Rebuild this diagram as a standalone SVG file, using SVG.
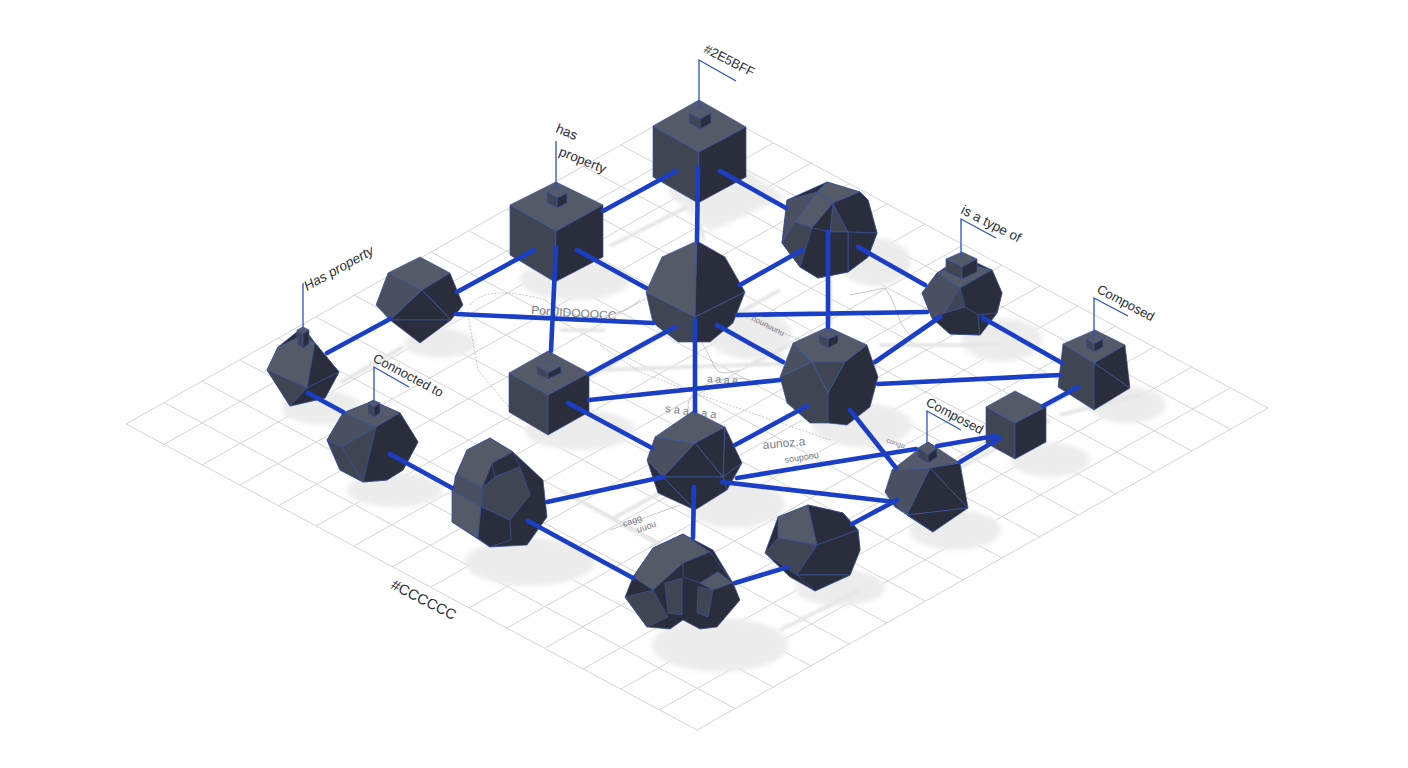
<svg xmlns="http://www.w3.org/2000/svg" width="1408" height="768" viewBox="0 0 1408 768">
<style>
.bg{fill:#fff}
.grid{fill:none;stroke:#d4d4d4;stroke-width:1}
.sh{fill:#ececec;filter:url(#soft)}
.shl{fill:none;stroke:#e6e6e6;stroke-width:4;filter:url(#soft1)}
.map{fill:none;stroke:#b0b0b0;stroke-width:.7}
.mapd{fill:none;stroke:#b0b0b0;stroke-width:.7;stroke-dasharray:2 1.5}
.faint{font-family:"Liberation Sans",sans-serif;fill:#7a7e88}
polygon{stroke:#3a54a0;stroke-width:.7;stroke-linejoin:round}
.t{fill:#555a69}.l{fill:#4b5060}.m{fill:#404554}.d{fill:#2a2e3c}
.cn{fill:none;stroke:#1a3fc6;stroke-width:4.600;stroke-linecap:round}
.fl{fill:none;stroke:#2c53bd;stroke-width:1.3}
.lb{font-family:"Liberation Sans",sans-serif;font-size:13.500px;fill:#2a2f3a}
</style>
<defs>
<filter id="soft" x="-20%" y="-20%" width="140%" height="140%"><feGaussianBlur stdDeviation="2.500"/></filter>
<filter id="soft1" x="-20%" y="-50%" width="140%" height="200%"><feGaussianBlur stdDeviation="1"/></filter>
</defs>
<rect class="bg" width="1408" height="768"/>
<path class="grid" d="M126 424l571 306M164 402.500l571 306M202 381l571 306M240 360l571 306M278 338l571 306M316 317l571 306M354 295l571 306M392 274l571 306M431 252l571 306M469 231l571 306M507 209l571 306M545 188l571 306M583 166l571 306M621 145l571 306M659 123l571 306M697 102l571 306M126 424l571 -322M164 444.400l571 -322M202 465l571 -322M240 485l571 -322M278 506l571 -322M316 526l571 -322M354 546l571 -322M392 567l571 -322M431 587l571 -322M469 608l571 -322M507 628l571 -322M545 648l571 -322M583 669l571 -322M621 689l571 -322M659 710l571 -322M697 730l571 -322"/>
<g id="shadows">
<polygon class="sh" style="stroke:none" points="665,190 747,170 785,197 710,232"/>
<ellipse class="sh" cx="575" cy="280" rx="55" ry="20"/><ellipse class="sh" cx="440" cy="343" rx="36" ry="15"/><ellipse class="sh" cx="322" cy="408" rx="40" ry="17"/><ellipse class="sh" cx="395" cy="490" rx="48" ry="17"/><ellipse class="sh" cx="530" cy="562" rx="65" ry="24"/><ellipse class="sh" cx="720" cy="645" rx="68" ry="27"/><ellipse class="sh" cx="840" cy="588" rx="45" ry="18"/><ellipse class="sh" cx="735" cy="505" rx="50" ry="23"/><ellipse class="sh" cx="580" cy="430" rx="55" ry="20"/><ellipse class="sh" cx="750" cy="335" rx="42" ry="24"/><ellipse class="sh" cx="862" cy="425" rx="50" ry="22"/><ellipse class="sh" cx="875" cy="262" rx="36" ry="24"/><ellipse class="sh" cx="1002" cy="340" rx="40" ry="22"/><ellipse class="sh" cx="1128" cy="405" rx="38" ry="18"/><ellipse class="sh" cx="1050" cy="460" rx="40" ry="17"/><ellipse class="sh" cx="955" cy="530" rx="46" ry="20"/>
<path class="shl" d="M610 246L687 207M340 383L403 347M585 380L720 300M560 330L605 330M700 225L704 240M830 280L830 325M780 290L700 335M600 370L830 362M880 345L1000 345M880 510L1050 420M1060 415L1140 395M560 490L660 545M690 600L800 560M610 520L720 460M780 630L860 590M750 365L790 345"/>
</g>
<g id="map-marks">
<path class="mapd" d="M470 305C480 290 510 290 545 300M468 315L478 370L520 420M600 345L640 372L700 395L830 440M740 315L800 340"/>
<path class="map" d="M545 300C570 320 610 325 640 300M800 375C820 395 840 390 855 410M690 410C680 400 710 370 750 380M850 295L885 288C900 310 895 320 910 335M610 530L680 505M700 340C720 370 710 378 740 370"/>
<text class="faint" font-size="12" transform="translate(531 314) rotate(4)">Por JIDOOOCC</text>
<text class="faint" font-size="10" transform="translate(707 382) rotate(4)">a a a e</text>
<text class="faint" font-size="11" transform="translate(665 412) rotate(7)">s a a a a a</text>
<text class="faint" font-size="12" transform="translate(763 449) rotate(-5)">aunoz.a</text>
<text class="faint" font-size="9" transform="translate(785 463) rotate(-9)">soupoou</text>
<text class="faint" font-size="9" transform="translate(624 527) rotate(-20)">cagg</text>
<text class="faint" font-size="9" transform="translate(638 533) rotate(-20)">uuou</text>
<text class="faint" font-size="8" transform="translate(751 320) rotate(27)">nounuunu</text>
<text class="faint" font-size="7" transform="translate(886 442) rotate(20)">congo</text>
</g>
<g id="node-cube-a"><polygon class="t" points="699,100 746,127 699,152 653,126"/><polygon class="m" points="653,126 699,152 698,203 653,177"/><polygon class="d" points="746,127 746,177 698,203 699,152"/><polygon class="t" points="699,106 711,113 700,119 689,113"/><polygon class="m" points="689,113 700,119 700,129 689,123"/><polygon class="d" points="711,113 711,123 700,129 700,119"/></g>
<g id="node-cube-b"><polygon class="t" points="556,182 603,205 556,231 510,205"/><polygon class="m" points="510,205 556,231 555,282 510,255"/><polygon class="d" points="603,205 603,257 555,282 556,231"/><polygon class="t" points="557,187 567,193 557,198 547,192"/><polygon class="m" points="547,192 557,198 557,208 547,203"/><polygon class="d" points="567,193 567,203 557,208 557,198"/></g>
<g id="node-poly-c"><polygon class="t" points="697,241 662,257 646,292 695,317"/><polygon class="d" points="697,241 725,257 745,292 695,317"/><polygon class="m" points="646,292 695,317 695,342 678,342 653,323"/><polygon class="d" points="745,292 695,317 695,342 710,342 733,323"/></g>
<g id="node-rock-d"><polygon class="d" points="827,182 860,192 868,200 877,233 868,257 848,272 818,278 800,267 782,243 787,200"/><polygon class="l" points="787,200 817,192 795,222 782,243"/><polygon class="t" points="817,192 827,182 860,192 833,203"/><polygon class="t" points="817,192 833,203 812,228 795,222"/><polygon class="m" points="833,203 848,232 830,232"/><polygon class="d" points="833,203 860,192 868,200 877,233 848,232"/><polygon class="d" points="833,203 830,232 812,228"/><polygon class="m" points="782,243 795,222 812,228 800,267"/><polygon class="d" points="848,232 877,233 868,257 848,272"/><polygon class="d" points="812,228 830,232 848,232 848,272 818,278 800,267"/></g>
<g id="node-rock-e"><polygon class="d" points="962,256 992,270 1002,293 997,313 980,335 950,334 932,318 922,293 937,273"/><polygon class="t" points="937,273 962,262 992,270 960,288"/><polygon class="l" points="937,273 960,288 945,313 932,318 922,293"/><polygon class="m" points="960,288 965,307 945,313"/><polygon class="d" points="960,288 992,270 1002,293 997,313 978,315 965,307"/><polygon class="d" points="932,318 945,313 965,307 978,315 980,335 950,334"/><polygon class="d" points="978,315 997,313 980,335"/><polygon class="t" points="962,252 977,259 962,267 946,259"/><polygon class="m" points="946,259 962,267 962,279 946,272"/><polygon class="d" points="977,259 977,272 962,279 962,267"/></g>
<g id="node-frustum-f"><polygon class="t" points="1095,330 1125,345 1094,363 1063,344"/><polygon class="m" points="1063,344 1094,363 1094,410 1058,387"/><polygon class="d" points="1125,345 1130,388 1094,363"/><polygon class="d" points="1094,363 1130,388 1094,410"/><polygon class="t" points="1094,335 1103,339 1094,344 1086,339"/><polygon class="m" points="1086,339 1094,344 1094,352 1086,347"/><polygon class="d" points="1103,339 1103,347 1094,352 1094,344"/></g>
<g id="node-cube-g"><polygon class="t" points="1015,391 1046,407 1015,423 986,407"/><polygon class="m" points="986,407 1015,423 1015,459 986,443"/><polygon class="d" points="1046,407 1046,442 1015,459 1015,423"/></g>
<g id="node-rock-h"><polygon class="t" points="892,470 928,442 960,463 930,468"/><polygon class="l" points="892,470 930,468 907,515 885,492"/><polygon class="d" points="930,468 960,463 968,508"/><polygon class="d" points="930,468 968,508 907,515"/><polygon class="d" points="907,515 968,508 933,532"/><polygon class="m" points="885,492 907,515 933,532 895,507"/><polygon class="t" points="928,442 937,448 928,455 918,448"/><polygon class="m" points="918,448 928,455 928,463 918,457"/><polygon class="d" points="937,448 937,457 928,463 928,455"/></g>
<g id="node-rock-i"><polygon class="t" points="793,343 828,327 867,345 845,362 812,362"/><polygon class="l" points="793,343 812,362 780,377"/><polygon class="m" points="812,362 845,362 828,393"/><polygon class="m" points="780,377 812,362 828,393 828,423 810,423 787,403"/><polygon class="d" points="845,362 867,345 878,377 870,407 847,425 828,423 828,393"/><polygon class="t" points="828,330 838,335 828,339 819,335"/><polygon class="m" points="819,335 828,339 828,348 819,343"/><polygon class="d" points="838,335 838,343 828,348 828,339"/></g>
<g id="node-cube-j"><polygon class="t" points="548,351 589,373 548,395 509,373"/><polygon class="m" points="509,373 548,395 548,435 509,412"/><polygon class="d" points="589,373 589,412 548,435 548,395"/><polygon class="t" points="548,360 561,366 548,373 537,366"/><polygon class="m" points="537,366 548,373 548,379 537,374"/><polygon class="d" points="561,366 561,373 548,379 548,373"/></g>
<g id="node-rock-k"><polygon class="t" points="655,437 693,411 725,427 695,443"/><polygon class="l" points="655,437 695,443 663,477 647,460"/><polygon class="d" points="695,443 725,427 723,477"/><polygon class="d" points="695,443 723,477 663,477"/><polygon class="d" points="725,427 742,463 723,477"/><polygon class="d" points="742,463 727,490 723,477"/><polygon class="d" points="663,477 723,477 727,490 695,510"/><polygon class="d" points="647,460 663,477 695,510 658,493"/></g>
<g id="node-rock-l"><polygon class="d" points="490,438 513,452 543,480 547,517 527,545 490,547 452,522 455,477 467,450"/><polygon class="t" points="467,450 490,438 513,452 492,463 482,488 457,475"/><polygon class="d" points="492,463 513,452 520,467 495,477"/><polygon class="m" points="495,477 520,467 530,495 510,520 482,507 482,488"/><polygon class="l" points="457,475 482,488 481,507 452,490"/><polygon class="t" points="452,490 481,507 478,538 452,522"/><polygon class="d" points="481,507 510,520 511,540 490,547 478,538"/></g>
<g id="node-rock-m"><polygon class="d" points="683,534 713,550 733,583 740,600 717,627 700,629 683,620 670,629 647,627 625,597 633,577 653,548"/><polygon class="t" points="653,548 683,534 710,552 683,563 653,590 633,577"/><polygon class="d" points="683,563 710,552 733,583 718,572 700,583 683,577"/><polygon class="m" points="625,597 653,590 668,617 647,627"/><polygon class="m" points="665,583 682,578 682,615 668,613"/><polygon class="t" points="700,583 718,572 732,583 713,590"/><polygon class="m" points="698,587 713,590 708,617 697,613"/></g>
<g id="node-rock-n"><polygon class="d" points="808,505 843,513 858,530 860,550 850,575 815,591 790,577 765,553 778,517"/><polygon class="t" points="808,505 817,545 778,538 778,517"/><polygon class="d" points="808,505 843,513 858,530 817,545"/><polygon class="m" points="778,538 817,545 797,575 765,553"/><polygon class="d" points="817,545 858,530 860,550 850,575 797,575"/><polygon class="d" points="797,575 850,575 815,591"/></g>
<g id="node-rock-o"><polygon class="t" points="388,273 420,257 450,273 422,290"/><polygon class="l" points="388,273 422,290 390,320 376,305"/><polygon class="d" points="422,290 450,273 463,305 451,320"/><polygon class="d" points="422,290 451,320 390,320"/><polygon class="d" points="390,320 451,320 420,343"/></g>
<g id="node-rock-p"><polygon class="d" points="303,327 315,343 339,372 325,398 290,406 267,370 278,347"/><polygon class="t" points="278,347 303,335 315,343 307,388 267,370"/><polygon class="m" points="267,370 307,388 290,406"/><polygon class="d" points="315,343 339,372 307,388"/><polygon class="d" points="307,388 339,372 325,398 290,406"/><polygon class="t" points="303,327 309,330 303,334 297,330"/><polygon class="m" points="297,330 303,334 303,348 297,344"/><polygon class="d" points="309,330 309,344 303,348 303,334"/></g>
<g id="node-rock-q"><polygon class="d" points="373,401 400,413 418,442 403,470 387,480 363,482 340,470 327,440 343,413"/><polygon class="t" points="343,413 373,401 400,413 376,427"/><polygon class="l" points="343,413 376,427 342,447 327,440"/><polygon class="m" points="376,427 342,447 363,482"/><polygon class="m" points="327,440 342,447 363,482 340,470"/><polygon class="d" points="376,427 400,413 418,442 403,470 387,480 363,482"/><polygon class="t" points="373,400 380,403 374,407 368,403"/><polygon class="m" points="368,403 374,407 374,417 368,413"/><polygon class="d" points="380,403 380,413 374,417 374,407"/></g>
<g id="connectors">
<path class="cn" d="M676 171L603 211M698 168L697 241M720 171L786 208M577 250L646 288M534 250L457 292M556 247L551 351M456 314L653 323M675 327L589 374M695 320L695 411M717 325L783 362M740 285L802 250M858 247L925 285M828 232L828 327M737 315L927 312M875 362L940 317M983 318L1062 363M878 384L1060 375M1078 387L1043 406M960 462L1000 438M737 478L916 449M937 446L995 436M722 482L895 502M807 406L735 445M850 410L896 468M852 524L897 500M589 400L780 380M568 403L652 448M547 502L663 477M694 487L693 538M528 521L633 578M735 583L788 567M390 454L452 488M308 393L343 412M327 353L390 319"/>
</g>
<g id="flags">
<path class="fl" d="M699 108V60L736 81"/><path class="fl" d="M556 190V141"/><path class="fl" d="M961 258V219L996 238"/><path class="fl" d="M1094 337V298L1128 316"/><path class="fl" d="M927 443V411L961 430"/><path class="fl" d="M303 328V283"/><path class="fl" d="M374 402V367L409 387"/>
<text class="lb" style="font-size:13px" transform="translate(703 52) rotate(27)">#2E5BFF</text>
<text class="lb" transform="translate(555 132) rotate(22)">has</text>
<text class="lb" transform="translate(558 155) rotate(22)">property</text>
<text class="lb" transform="translate(960 213) rotate(27)">is a type of</text>
<text class="lb" style="font-size:13px" transform="translate(1096 292) rotate(28)">Composed</text>
<text class="lb" style="font-size:13px" transform="translate(925 405) rotate(28)">Composed</text>
<text class="lb" font-style="italic" transform="translate(307 291) rotate(-29)">Has property</text>
<text class="lb" style="font-size:13px" transform="translate(372 361) rotate(28)">Connocted to</text>
<text class="lb" style="font-size:14.500px" transform="translate(390 588) rotate(27)">#CCCCCC</text>
</g>
</svg>
